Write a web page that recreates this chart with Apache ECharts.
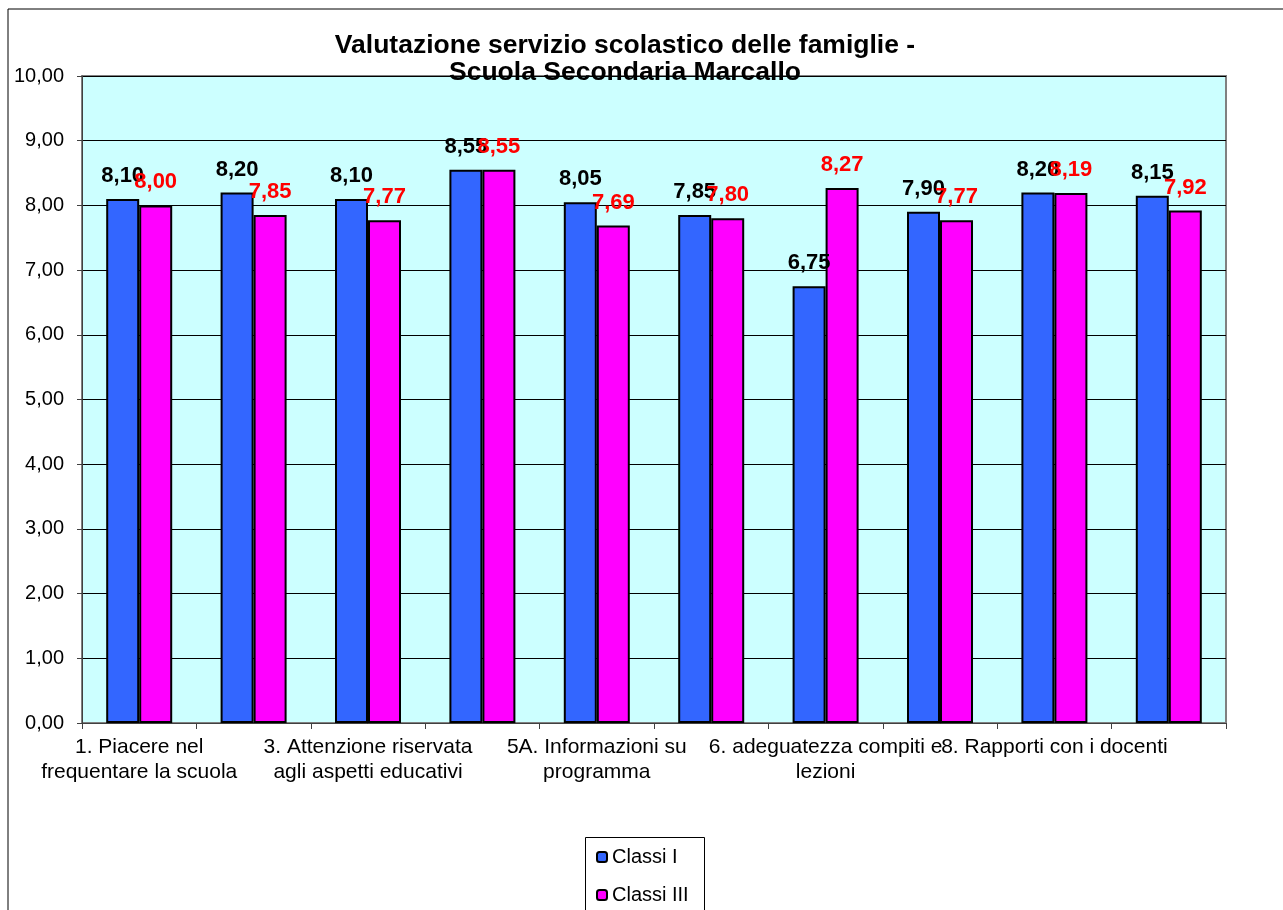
<!DOCTYPE html>
<html>
<head>
<meta charset="utf-8">
<title>Valutazione servizio scolastico</title>
<script src="https://cdn.jsdelivr.net/npm/echarts@6/dist/echarts.min.js"></script>
<style>
  html, body { margin: 0; padding: 0; background: #fff; }
  #chart { width: 1283px; height: 910px; }
</style>
</head>
<body>
<div id="chart"></div>
<script>
// categorie (solo una su due ha l'etichetta visibile)
const categories = ['1.', '2.', '3.', '4.', '5A.', '5B.', '6.', '7.', '8.', '9.'];
const tickLabels = [
  '1. Piacere nel\nfrequentare la scuola', '',
  '3. Attenzione riservata\nagli aspetti educativi', '',
  '5A. Informazioni su\nprogramma', '',
  '6. adeguatezza compiti e\nlezioni', '',
  '8. Rapporti con i docenti', ''
];
const seriesNames = ['Classi I', 'Classi III'];
const classiI = [8.10, 8.20, 8.10, 8.55, 8.05, 7.85, 6.75, 7.90, 8.20, 8.15];
const classiIII = [8.00, 7.85, 7.77, 8.55, 7.69, 7.80, 8.27, 7.77, 8.19, 7.92];

const FONT = 'Arial, "Liberation Sans", sans-serif';
const fmt = v => Number(v).toFixed(2).replace('.', ',');

const chart = echarts.init(document.getElementById('chart'));

const option = {
  backgroundColor: '#fff',
  animation: false,
  title: {
    text: 'Valutazione servizio scolastico delle famiglie -\nScuola Secondaria Marcallo',
    left: 625,
    top: 32,
    textAlign: 'center',
    padding: 0,
    textStyle: {
      fontFamily: FONT,
      fontSize: 26.5,
      fontWeight: 'bold',
      color: '#000',
      lineHeight: 27
    }
  },
  graphic: [
    // bordo esterno del grafico
    {
      type: 'rect',
      shape: { x: 8, y: 9, width: 1400, height: 1000 },
      style: { fill: 'none', stroke: '#000', lineWidth: 1 },
      silent: true
    },
    // riquadro della legenda (prosegue oltre il bordo inferiore)
    {
      type: 'rect',
      shape: { x: 585.5, y: 837.5, width: 119, height: 120 },
      style: { fill: '#fff', stroke: '#000', lineWidth: 1 },
      silent: true,
      z: 0
    }
  ],
  legend: {
    data: seriesNames,
    orient: 'vertical',
    left: 585,
    top: 837,
    padding: [10, 0, 0, 11],
    itemGap: 18,
    itemWidth: 10,
    itemHeight: 10,
    z: 5,
    textStyle: { fontFamily: FONT, fontSize: 20, color: '#000' }
  },
  grid: {
    left: 82,
    right: 57,
    top: 76,
    bottom: 187,
    show: true,
    backgroundColor: '#ccffff',
    borderColor: '#808080',
    borderWidth: 2,
    containLabel: false
  },
  xAxis: {
    type: 'category',
    data: categories,
    axisLine: { show: true, lineStyle: { color: '#404040', width: 1 } },
    axisTick: { show: true, interval: 0, length: 6, lineStyle: { color: '#404040' } },
    axisLabel: {
      interval: 1,
      hideOverlap: false,
      showMinLabel: true,
      showMaxLabel: true,
      margin: 12,
      fontFamily: FONT,
      fontSize: 21,
      lineHeight: 25,
      color: '#000',
      formatter: (val, idx) => tickLabels[idx]
    },
    splitLine: { show: false }
  },
  yAxis: {
    type: 'value',
    min: 0,
    max: 10,
    interval: 1,
    axisLine: { show: true, lineStyle: { color: '#404040', width: 1 } },
    axisTick: { show: true, length: 5, lineStyle: { color: '#404040' } },
    axisLabel: {
      margin: 18,
      fontFamily: FONT,
      fontSize: 20,
      color: '#000',
      formatter: v => fmt(v)
    },
    splitLine: { show: true, lineStyle: { color: '#000', width: 1 } }
  },
  series: [
    {
      name: seriesNames[0],
      type: 'bar',
      data: classiI,
      barWidth: 33,
      barGap: '0%',
      itemStyle: { color: '#3366ff', borderColor: '#000', borderWidth: 2 },
      label: {
        show: true,
        position: 'top',
        distance: 12,
        fontFamily: FONT,
        fontSize: 22,
        fontWeight: 'bold',
        color: '#000',
        formatter: p => fmt(p.value)
      }
    },
    {
      name: seriesNames[1],
      type: 'bar',
      data: classiIII,
      barWidth: 33,
      barGap: '0%',
      itemStyle: { color: '#ff00ff', borderColor: '#000', borderWidth: 2 },
      label: {
        show: true,
        position: 'top',
        distance: 12,
        fontFamily: FONT,
        fontSize: 22,
        fontWeight: 'bold',
        color: '#ff0000',
        formatter: p => fmt(p.value)
      }
    }
  ]
};

chart.setOption(option);
</script>
</body>
</html>
